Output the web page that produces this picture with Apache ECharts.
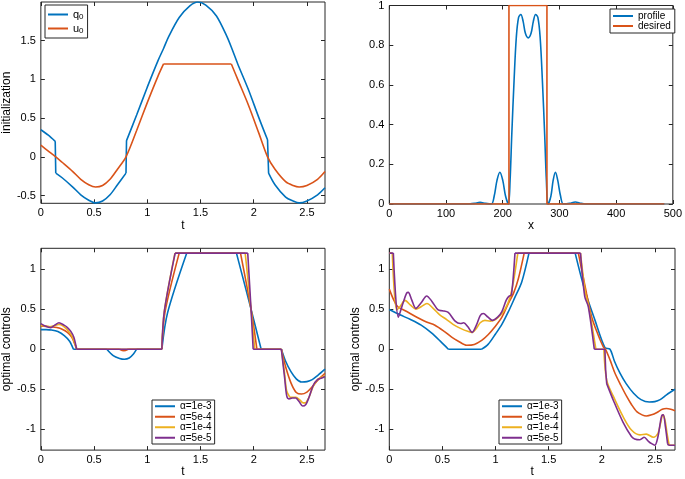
<!DOCTYPE html>
<html>
<head>
<meta charset="utf-8">
<script src="https://cdn.jsdelivr.net/npm/echarts@6/dist/echarts.min.js"></script>
<style>
html,body{margin:0;padding:0;background:#fff;}
#chart{width:685px;height:479px;}
</style>
</head>
<body>
<div id="chart"></div>
<script>
// ---------- DATA ----------
// Top-left: initialization
const q0T = [0,0.07,0.135,0.14,0.2,0.3,0.375,0.45,0.514,0.58,0.65,0.72,0.8,0.805,0.9,1.0,1.1,1.153,1.2,1.3,1.4,1.475,1.55,1.65,1.75,1.8,1.85,1.95,2.05,2.13,2.14,2.2,2.3,2.37,2.427,2.5,2.6,2.67];
const q0V = [0.35,0.28,0.2,-0.21,-0.27,-0.39,-0.49,-0.56,-0.595,-0.57,-0.49,-0.36,-0.21,0.21,0.54,0.9,1.24,1.4,1.55,1.8,1.95,2.0,1.96,1.82,1.55,1.38,1.2,0.87,0.5,0.22,-0.21,-0.36,-0.52,-0.57,-0.595,-0.57,-0.49,-0.40];
const u0T = [0,0.07,0.14,0.2,0.3,0.375,0.45,0.514,0.58,0.65,0.72,0.8,0.9,1.0,1.1,1.153,1.79,1.85,1.95,2.05,2.13,2.2,2.3,2.37,2.427,2.5,2.6,2.67];
const u0V = [0.15,0.075,0.0,-0.07,-0.19,-0.29,-0.36,-0.39,-0.37,-0.29,-0.16,0.0,0.34,0.7,1.04,1.2,1.2,1.0,0.67,0.3,0.0,-0.16,-0.32,-0.37,-0.39,-0.37,-0.29,-0.19];

// Top-right: profile vs desired
const profX = [0,140,150,160,170,180,185,190,195,200,205,210,213,216,220,224,228,232,236,240,245,250,254,258,262,266,270,274,277,280,285,289,293,297,302,307,318,328,338,345,485];
const profV = [0,0,0.003,0.008,0.003,0,0.04,0.12,0.16,0.12,0.04,0,0.12,0.35,0.62,0.84,0.94,0.955,0.92,0.86,0.837,0.86,0.92,0.955,0.94,0.84,0.62,0.35,0.12,0,0.04,0.12,0.16,0.12,0.04,0,0.003,0.01,0.003,0,0];
const desX = [0,211,211,278,278,485];
const desV = [0,0,1,1,0,0];

// Bottom-left: optimal controls
const bl1T = [0,0.05,0.1,0.16,0.22,0.27,0.306,0.62,0.68,0.74,0.785,0.83,0.87,0.9,1.137,1.19,1.371,1.838,1.975,2.07,2.26,2.3,2.35,2.4,2.45,2.5,2.55,2.6,2.67];
const bl1V = [0.245,0.245,0.24,0.22,0.17,0.1,0,0,-0.08,-0.115,-0.125,-0.11,-0.06,0,0,0.45,1.2,1.2,0.5,0,0,-0.15,-0.28,-0.37,-0.41,-0.405,-0.38,-0.33,-0.25];
const bl2T = [0,0.05,0.1,0.15,0.2,0.25,0.29,0.32,0.337,0.74,0.78,0.82,1.137,1.166,1.30,1.876,1.975,2.03,2.26,2.3,2.35,2.4,2.45,2.5,2.55,2.6,2.67];
const bl2V = [0.29,0.285,0.28,0.27,0.25,0.21,0.15,0.06,0,0,-0.02,0,0,0.46,1.2,1.2,0.5,0,0,-0.22,-0.42,-0.54,-0.56,-0.535,-0.47,-0.39,-0.30];
const bl3T = [0,0.04,0.08,0.12,0.17,0.21,0.25,0.29,0.32,0.34,1.137,1.16,1.26,1.92,1.975,2.01,2.26,2.29,2.31,2.34,2.37,2.4,2.43,2.46,2.49,2.52,2.56,2.6,2.64,2.67];
const bl3V = [0.30,0.29,0.28,0.29,0.31,0.29,0.24,0.17,0.07,0,0,0.47,1.2,1.2,0.5,0,0,-0.3,-0.52,-0.6,-0.6,-0.6,-0.63,-0.67,-0.67,-0.6,-0.46,-0.38,-0.35,-0.33];
const bl4T = [0,0.04,0.093,0.13,0.17,0.218,0.25,0.28,0.31,0.336,1.137,1.16,1.262,1.944,1.975,1.995,2.26,2.29,2.31,2.33,2.36,2.4,2.43,2.46,2.49,2.52,2.56,2.6,2.64,2.67];
const bl4V = [0.32,0.29,0.27,0.3,0.33,0.30,0.27,0.225,0.15,0,0,0.47,1.2,1.2,0.5,0,0,-0.35,-0.58,-0.62,-0.61,-0.61,-0.66,-0.71,-0.69,-0.6,-0.45,-0.38,-0.36,-0.34];

// Bottom-right: optimal controls
const br1T = [0,0.1,0.2,0.3,0.4,0.48,0.556,0.87,0.93,1.0,1.06,1.12,1.18,1.247,1.315,1.75,1.84,1.937,2.03,2.078,2.12,2.172,2.23,2.3,2.37,2.448,2.5,2.55,2.61,2.69];
const br1V = [0.495,0.43,0.37,0.3,0.2,0.1,0,0,0.06,0.19,0.31,0.465,0.64,0.84,1.2,1.2,0.74,0.36,0.02,0,-0.15,-0.3,-0.43,-0.55,-0.63,-0.66,-0.655,-0.63,-0.57,-0.5];
const br2T = [0,0.04,0.08,0.15,0.273,0.35,0.43,0.52,0.587,0.65,0.729,0.8,0.87,0.93,0.995,1.06,1.12,1.17,1.215,1.27,1.78,1.858,1.906,1.96,2.015,2.035,2.08,2.125,2.18,2.235,2.28,2.33,2.38,2.42,2.47,2.52,2.57,2.61,2.65,2.69];
const br2V = [0.75,0.62,0.53,0.48,0.39,0.34,0.30,0.22,0.15,0.1,0.05,0.06,0.11,0.18,0.28,0.4,0.57,0.7,0.88,1.2,1.2,0.69,0.40,0.2,0.03,0,-0.14,-0.3,-0.45,-0.59,-0.69,-0.78,-0.82,-0.835,-0.82,-0.79,-0.75,-0.74,-0.75,-0.77];
const br3T = [0,0.028,0.069,0.1,0.148,0.2,0.25,0.3,0.354,0.42,0.475,0.54,0.6,0.67,0.745,0.78,0.82,0.856,0.9,0.95,1.0,1.05,1.09,1.137,1.17,1.21,1.80,1.845,1.88,1.945,2.02,2.047,2.11,2.2,2.28,2.36,2.42,2.486,2.53,2.555,2.574,2.595,2.615,2.635,2.69];
const br3V = [1.2,1.2,0.49,0.53,0.61,0.55,0.5,0.53,0.57,0.5,0.43,0.37,0.31,0.26,0.22,0.21,0.26,0.33,0.36,0.35,0.37,0.43,0.5,0.65,0.85,1.2,1.2,0.72,0.52,0,0,-0.39,-0.59,-0.84,-1.01,-1.07,-1.06,-1.10,-1.05,-0.92,-0.82,-0.88,-1.05,-1.2,-1.2];
const br4T = [0,0.038,0.085,0.13,0.163,0.179,0.21,0.25,0.3,0.352,0.4,0.46,0.5,0.555,0.62,0.67,0.70,0.74,0.78,0.82,0.856,0.885,0.93,0.97,1.02,1.06,1.1,1.125,1.15,1.183,1.80,1.84,1.874,1.93,2.03,2.037,2.047,2.11,2.2,2.28,2.31,2.36,2.40,2.44,2.47,2.50,2.53,2.55,2.565,2.58,2.60,2.62,2.63,2.69];
const br4V = [1.2,1.2,0.40,0.58,0.70,0.71,0.62,0.51,0.58,0.665,0.6,0.49,0.48,0.46,0.35,0.32,0.33,0.28,0.21,0.3,0.42,0.445,0.4,0.36,0.4,0.47,0.61,0.66,0.68,1.2,1.2,0.66,0.53,0,0,-0.26,-0.43,-0.64,-0.91,-1.09,-1.12,-1.13,-1.10,-1.15,-1.18,-1.2,-1.09,-0.93,-0.83,-0.82,-0.97,-1.18,-1.2,-1.2];

// Tick labels
const tTicks = [0,0.5,1,1.5,2,2.5];
const xTicks = [0,100,200,300,400,500];
const initTicks = [-0.5,0,0.5,1,1.5];
const profTicks = [0,0.2,0.4,0.6,0.8,1];
const ctrlTicks = [-1,-0.5,0,0.5,1];
const alphaNames = ['\u03b1=1e-3','\u03b1=5e-4','\u03b1=1e-4','\u03b1=5e-5'];

// ---------- CHART ----------
const FONT = 'Liberation Sans, Arial, Helvetica, sans-serif';
const C = ['#0072BD','#D95319','#EDB120','#7E2F8E'];
const INK = '#262626';

// Build [x,y] data; flat runs and near-vertical jumps are kept as straight
// pieces (separated by gaps) so only the curved stretches get smoothed.
function build(t, v, jumpTol) {
  const segs = [];
  let cur = [[t[0], v[0]]];
  for (let i = 0; i < t.length - 1; i++) {
    const straight = Math.abs(v[i + 1] - v[i]) < 1e-9 || (t[i + 1] - t[i]) < jumpTol;
    if (straight) {
      segs.push(cur);
      segs.push([[t[i], v[i]], [t[i + 1], v[i + 1]]]);
      cur = [[t[i + 1], v[i + 1]]];
    } else {
      cur.push([t[i + 1], v[i + 1]]);
    }
  }
  segs.push(cur);
  const out = [];
  segs.filter(s => s.length > 1).forEach((s, k) => {
    if (k > 0) out.push(['-', '-']);
    s.forEach(p => out.push(p));
  });
  return out;
}

const grids = [
  {left: 39.3, top: 2, width: 285.7, height: 201.3},
  {left: 389.3, top: 5, width: 285.7, height: 199},
  {left: 39.3, top: 248.3, width: 285.7, height: 202.4},
  {left: 389.3, top: 248.3, width: 285.7, height: 202.4}
].map(g => Object.assign({show: true, borderColor: INK, borderWidth: 1, backgroundColor: '#fff', containLabel: false}, g));

const specs = [
  {xmin: 0, xmax: 2.67, xt: tTicks, ymin: -0.6, ymax: 2.0, yt: initTicks, xname: 't', yname: 'initialization'},
  {xmin: 0, xmax: 500, xt: xTicks, ymin: 0, ymax: 1, yt: profTicks, xname: 'x', yname: ''},
  {xmin: 0, xmax: 2.67, xt: tTicks, ymin: -1.26, ymax: 1.26, yt: ctrlTicks, xname: 't', yname: 'optimal controls'},
  {xmin: 0, xmax: 2.69, xt: tTicks, ymin: -1.26, ymax: 1.26, yt: ctrlTicks, xname: 't', yname: 'optimal controls'}
];

const xAxes = [], yAxes = [];
specs.forEach((s, gi) => {
  const tick = (vals) => ({show: true, inside: true, length: 4, customValues: vals, lineStyle: {color: INK, width: 1}});
  const hidden = {show: false, onZero: false};
  xAxes.push({
    type: 'value', gridIndex: gi, position: 'bottom', min: s.xmin, max: s.xmax,
    axisLine: hidden, splitLine: {show: false},
    axisTick: tick(s.xt),
    axisLabel: {customValues: s.xt, color: '#000', fontFamily: FONT, fontSize: 11, margin: 4},
    name: s.xname, nameLocation: 'middle', nameGap: 15,
    nameTextStyle: {color: '#000', fontFamily: FONT, fontSize: 12}
  });
  xAxes.push({
    type: 'value', gridIndex: gi, position: 'top', min: s.xmin, max: s.xmax,
    axisLine: hidden, splitLine: {show: false},
    axisTick: tick(s.xt), axisLabel: {show: false}
  });
  yAxes.push({
    type: 'value', gridIndex: gi, position: 'left', min: s.ymin, max: s.ymax,
    axisLine: hidden, splitLine: {show: false},
    axisTick: tick(s.yt),
    axisLabel: {customValues: s.yt, color: '#000', fontFamily: FONT, fontSize: 11, margin: 5},
    name: s.yname, nameLocation: 'middle', nameGap: 25,
    nameTextStyle: {color: '#000', fontFamily: FONT, fontSize: 12}
  });
  yAxes.push({
    type: 'value', gridIndex: gi, position: 'right', min: s.ymin, max: s.ymax,
    axisLine: hidden, splitLine: {show: false},
    axisTick: tick(s.yt), axisLabel: {show: false}
  });
});

const line = (name, gi, data, color, smooth) => ({
  type: 'line', name, xAxisIndex: 2 * gi, yAxisIndex: 2 * gi, data,
  showSymbol: false, symbol: 'none', smooth: smooth || false, connectNulls: false,
  lineStyle: {color, width: 1.6}, itemStyle: {color},
  clip: true, silent: true, z: 3
});

const S = 0.3, TJ = 0.012;
const series = [
  line('q0', 0, build(q0T, q0V, TJ), C[0], S),
  line('u0', 0, build(u0T, u0V, TJ), C[1], S),
  line('profile', 1, build(profX, profV, 1), C[0], 0.35),
  line('desired', 1, desX.map((x, i) => [x, desV[i]]), C[1], false),
  line(alphaNames[0], 2, build(bl1T, bl1V, TJ), C[0], S),
  line(alphaNames[1], 2, build(bl2T, bl2V, TJ), C[1], S),
  line(alphaNames[2], 2, build(bl3T, bl3V, TJ), C[2], S),
  line(alphaNames[3], 2, build(bl4T, bl4V, TJ), C[3], S),
  line(alphaNames[0], 3, build(br1T, br1V, TJ), C[0], S),
  line(alphaNames[1], 3, build(br2T, br2V, TJ), C[1], S),
  line(alphaNames[2], 3, build(br3T, br3V, TJ), C[2], S),
  line(alphaNames[3], 3, build(br4T, br4V, TJ), C[3], S)
];

const legendBase = {
  orient: 'vertical', icon: 'rect', itemWidth: 20, itemHeight: 2,
  backgroundColor: '#fff', borderColor: INK, borderWidth: 1, borderRadius: 0,
  selectedMode: false, z: 10,
  textStyle: {color: '#000', fontFamily: FONT, fontSize: 10}
};

const legends = [
  Object.assign({}, legendBase, {
    left: 45, top: 5, padding: [3, 4, 3, 3], itemGap: 1,
    data: ['q0', 'u0'],
    formatter: n => '{m|' + n.charAt(0) + '}{s|' + n.charAt(1) + '}',
    textStyle: {color: '#000', fontFamily: FONT, fontSize: 11,
      rich: {m: {fontSize: 11, lineHeight: 13, fontFamily: FONT, color: '#000'},
             s: {fontSize: 8, lineHeight: 13, fontFamily: FONT, color: '#000', padding: [5, 0, 0, 0]}}}
  }),
  Object.assign({}, legendBase, {
    left: 610, top: 9, padding: [2, 4, 2, 3], itemGap: 0,
    data: ['profile', 'desired'],
    textStyle: {color: '#000', fontFamily: FONT, fontSize: 10, lineHeight: 10}
  }),
  Object.assign({}, legendBase, {
    left: 152, top: 400, padding: [1, 3, 1, 3], itemGap: 0,
    data: alphaNames,
    textStyle: {color: '#000', fontFamily: FONT, fontSize: 10, lineHeight: 10.5}
  }),
  Object.assign({}, legendBase, {
    left: 499, top: 400, padding: [1, 3, 1, 3], itemGap: 0,
    data: alphaNames,
    textStyle: {color: '#000', fontFamily: FONT, fontSize: 10, lineHeight: 10.5}
  })
];

const chart = echarts.init(document.getElementById('chart'), null, {renderer: 'canvas'});
chart.setOption({
  animation: false,
  backgroundColor: '#fff',
  grid: grids,
  xAxis: xAxes,
  yAxis: yAxes,
  legend: legends,
  series: series
});
</script>
</body>
</html>
